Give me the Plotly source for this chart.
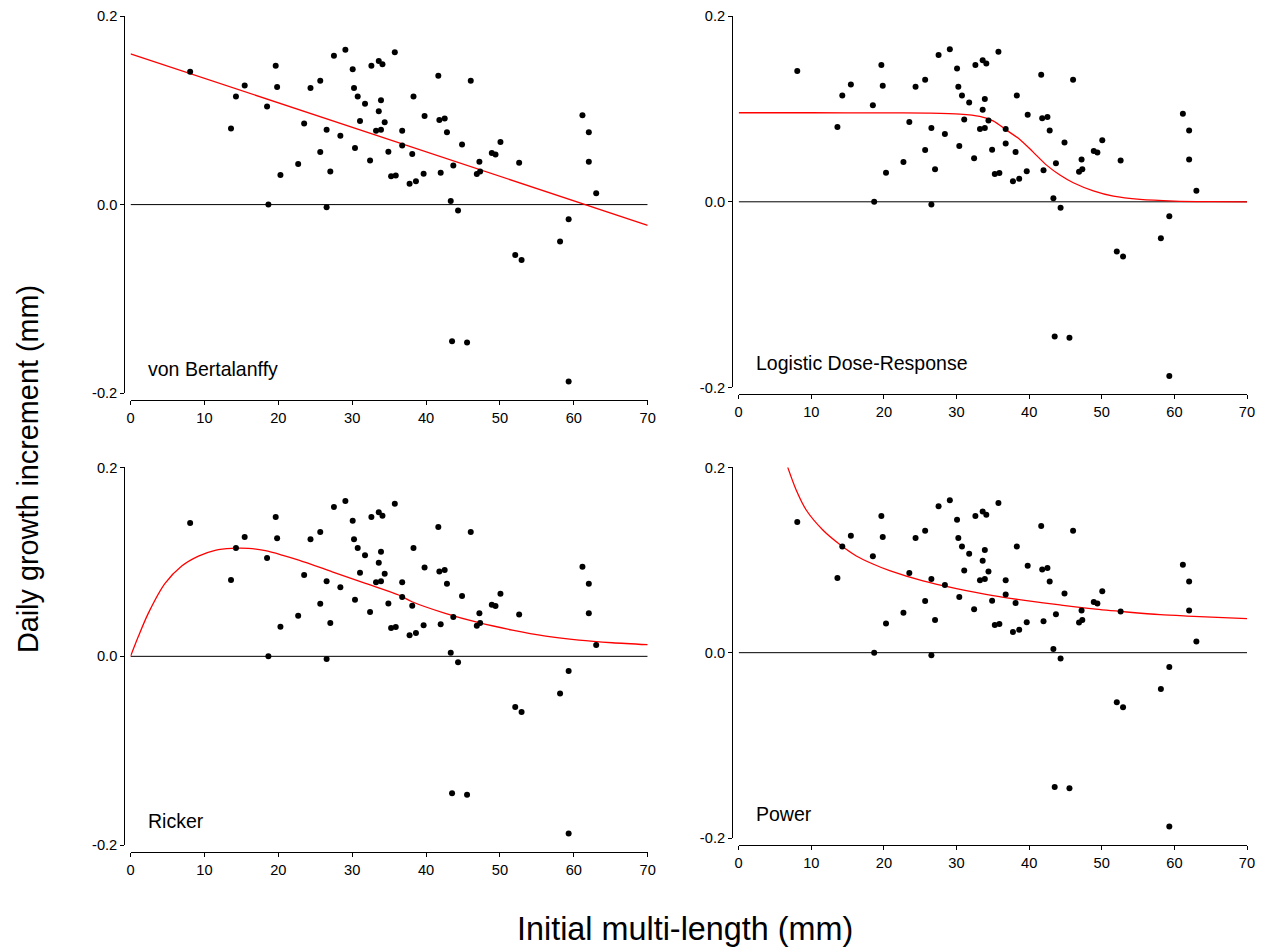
import plotly.graph_objects as go

# ---------------- data ----------------
length_mm = [8.07, 13.6, 14.27, 15.45, 18.48, 18.66, 19.65, 19.84, 20.29, 22.69,
             23.5, 24.36, 25.68, 25.68, 26.54, 26.54, 27.04, 27.53, 28.4, 29.08,
             30.07, 30.25, 30.38, 30.75, 31.06, 31.74, 32.42, 32.6, 33.6, 34.1,
             33.9, 33.6, 33.23, 33.9, 34.4, 34.9, 35.27, 35.9, 35.77, 36.77,
             36.77, 37.77, 38.13, 38.3, 38.63, 39.67, 39.8, 41.66, 41.98, 41.8,
             42.52, 42.83, 43.34, 43.69, 44.33, 44.87, 46.05, 46.87, 47.22, 47.32,
             48.9, 49.4, 50.07, 52.6, 61.17, 62.03, 62.03, 63.03, 59.3, 58.14,
             52.07, 52.93, 43.52, 45.55, 59.3]
increment_mm = [0.141, 0.0807, 0.1146, 0.1263, 0.104, 0.0, 0.1474, 0.1249, 0.0314, 0.043,
                0.086, 0.1238, 0.1315, 0.0557, 0.0794, -0.0028, 0.0352, 0.158, 0.073, 0.1644,
                0.1436, 0.1238, 0.06, 0.1146, 0.0886, 0.1069, 0.0469, 0.1474, 0.1524, 0.1489,
                0.1108, 0.0991, 0.0783, 0.0794, 0.0875, 0.056, 0.030, 0.031, 0.1616, 0.0783,
                0.0628, 0.0222, 0.0536, 0.1146, 0.0247, 0.0328, 0.0939, 0.1368, 0.0339, 0.0899,
                0.0913, 0.0769, 0.0039, 0.0416, -0.0063, 0.0638, 0.1315, 0.0325, 0.0455, 0.0352,
                0.0547, 0.0532, 0.0663, 0.0444, 0.0949, 0.0769, 0.0455, 0.012, -0.0155, -0.0392,
                -0.0536, -0.0589, -0.145, -0.1464, -0.1876]

vb_x = [0, 70]
vb_y = [0.160, -0.022]

logistic_x = [0, 10, 20, 26, 30.45, 33.2, 35.04, 36.88, 38.72, 40.56, 42.4, 44.24,
              46.08, 48.84, 51.6, 55.27, 60, 65, 70]
logistic_y = [0.0959, 0.0959, 0.0958, 0.0955, 0.0945, 0.092, 0.0872, 0.0772, 0.0672,
              0.0535, 0.0395, 0.0288, 0.0205, 0.0118, 0.0061, 0.0026, 0.0008, 0.0002, 0.0]

ricker_x = [0, 1.04, 2.4, 4.67, 6.93, 9.19, 11.45, 13.7, 15.97, 18.24, 20.5, 22.77,
            27.3, 31.8, 36.3, 38.1, 42.6, 47.15, 51.67, 56.2, 60.7, 65.2, 70]
ricker_y = [0.0, 0.0207, 0.0455, 0.0772, 0.0956, 0.1061, 0.1122, 0.1143, 0.1143, 0.1118,
            0.1072, 0.1019, 0.0895, 0.0772, 0.0649, 0.0578, 0.0455, 0.0356, 0.0278, 0.0215,
            0.0172, 0.0144, 0.0123]

power_x = [6.76, 7.92, 9.3, 11.59, 13.89, 16.2, 18.49, 20.79, 25.38, 29.99, 35.04,
           39.65, 44.24, 48.84, 53.44, 58.04, 62.63, 70]
power_y = [0.2, 0.1756, 0.154, 0.1324, 0.117, 0.1044, 0.0957, 0.0885, 0.0774, 0.0691,
           0.0615, 0.0561, 0.0515, 0.0472, 0.0439, 0.041, 0.0393, 0.0367]

panel_names = ["von Bertalanffy", "Logistic Dose-Response", "Ricker", "Power"]
curves_x = [vb_x, logistic_x, ricker_x, power_x]
curves_y = [vb_y, logistic_y, ricker_y, power_y]

x_ticks = [0, 10, 20, 30, 40, 50, 60, 70]
y_ticks = [-0.2, 0.0, 0.2]
y_ticktext = ["-0.2", "0.0", "0.2"]

# ---------------- layout geometry ----------------
# Positions below are measured in the 1268x947 picture and converted to
# figure pixels (the page keeps its body margin and is photographed slightly
# scaled).
W, H = 1268, 955
OX, DX = 6.0, 0.9887          # horizontal: picture = OX + DX * figure
OY, DY = 7.87, 947 / 963      # vertical:   picture = OY + DY * figure


def px(v):
    return ((v - OX) / DX) / W


def py(v):
    return 1 - ((v - OY) / DY) / H


def fs(size):
    return size / DX


# x0, x1 (x=0 and x=70), ytop (y=0.2), ybot (y=-0.2), y-axis line x, x-axis line y
geom = [
    (132.3, 648.5, 16.0, 393.0, 126.0, 400.0),
    (739.3, 1246.7, 16.0, 387.4, 732.7, 394.0),
    (132.3, 648.5, 467.3, 845.3, 126.0, 852.0),
    (739.3, 1246.7, 467.3, 838.0, 732.7, 845.0),
]

FONT = "Arial, Liberation Sans, sans-serif"

fig = go.Figure()
layout = dict(
    width=W, height=H,
    margin=dict(l=0, r=0, t=0, b=0),
    paper_bgcolor="white", plot_bgcolor="white",
    showlegend=False,
    font=dict(family=FONT, color="black"),
)

annotations = []
for i in range(4):
    x0, x1, yt, yb, yax, xax = geom[i]
    sfx = "" if i == 0 else str(i + 1)
    xa, ya = "x" + sfx, "y" + sfx
    layout["xaxis" + sfx] = dict(
        domain=[px(x0), px(x1)], range=[0, 70], anchor="free",
        position=py(xax), showline=True, linecolor="black", linewidth=1,
        ticks="outside", ticklen=4, tickcolor="black", tickvals=x_ticks,
        showgrid=False, zeroline=False, tickfont=dict(size=fs(14.5), family=FONT),
    )
    layout["yaxis" + sfx] = dict(
        domain=[py(yb), py(yt)], range=[-0.2, 0.2], anchor="free",
        position=px(yax), showline=True, linecolor="black", linewidth=1,
        ticks="outside", ticklen=4, tickcolor="black", tickvals=y_ticks,
        ticktext=y_ticktext, showgrid=False, zeroline=False,
        tickfont=dict(size=fs(14.5), family=FONT),
    )
    # zero reference line
    fig.add_trace(go.Scatter(x=[0, 70], y=[0, 0], mode="lines",
                             line=dict(color="black", width=1),
                             xaxis=xa, yaxis=ya, hoverinfo="skip"))
    # fitted curve
    fig.add_trace(go.Scatter(x=curves_x[i], y=curves_y[i], mode="lines",
                             line=dict(color="red", width=1.3, shape="spline", smoothing=0.8),
                             xaxis=xa, yaxis=ya, cliponaxis=False))
    # observations
    fig.add_trace(go.Scatter(x=length_mm, y=increment_mm, mode="markers",
                             marker=dict(color="black", size=6),
                             xaxis=xa, yaxis=ya, cliponaxis=False))
    annotations.append(dict(
        x=2.1, y=-0.174, xref=xa, yref=ya, text=panel_names[i],
        showarrow=False, xanchor="left", yanchor="middle",
        font=dict(size=fs(19.3), family=FONT, color="black"),
    ))

annotations.append(dict(
    x=px(30), y=py(469), xref="paper", yref="paper",
    text="Daily growth increment (mm)", textangle=-90, showarrow=False,
    xanchor="center", yanchor="middle", font=dict(size=fs(28.5), family=FONT, color="black"),
))
annotations.append(dict(
    x=px(686), y=py(929), xref="paper", yref="paper",
    text="Initial multi-length (mm)", showarrow=False,
    xanchor="center", yanchor="middle", font=dict(size=fs(32), family=FONT, color="black"),
))
layout["annotations"] = annotations
fig.update_layout(**layout)

fig.write_html("out.html")
